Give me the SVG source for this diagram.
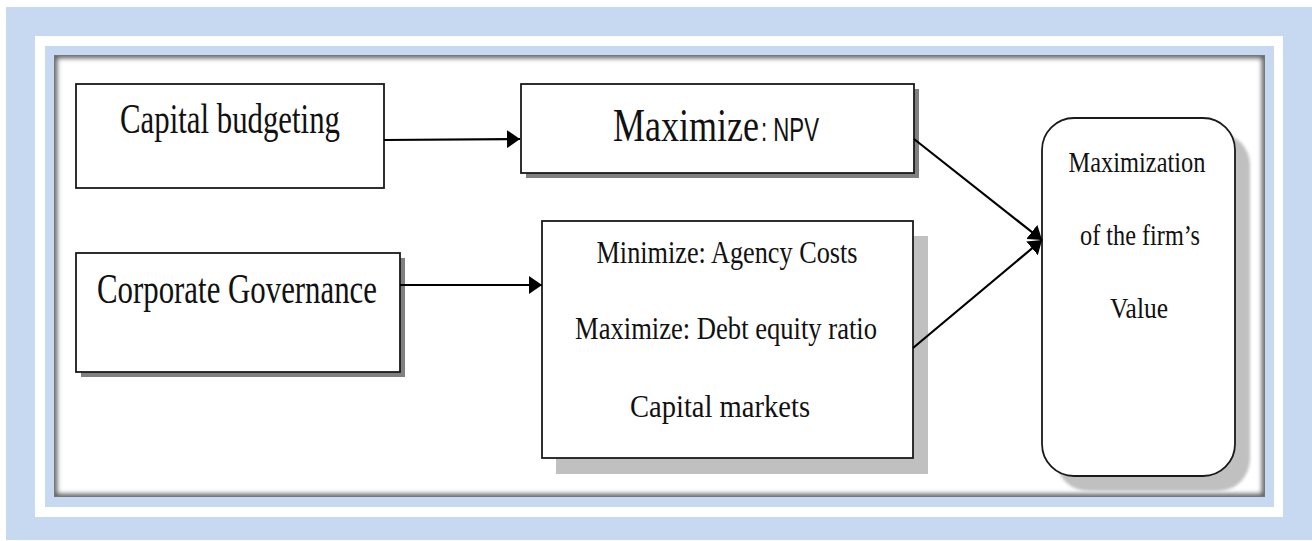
<svg xmlns="http://www.w3.org/2000/svg" width="1312" height="541" viewBox="0 0 1312 541">
  <style>
    .box { fill: #ffffff; stroke: #1a1a1a; stroke-width: 1.8; }
    .shadow-dark { fill: #808080; }
    .shadow-light { fill: #c0c0c0; }
    .serif { font-family: "Liberation Serif", "Times New Roman", serif; fill: #111111; }
    .sans { font-family: "Liberation Sans", Arial, sans-serif; fill: #111111; }
    .link { fill: none; stroke: #000000; stroke-width: 2.2; marker-end: url(#arrow); }
  </style>
  <defs>
    <marker id="arrow" markerUnits="userSpaceOnUse" markerWidth="14" markerHeight="18" refX="13" refY="9" orient="auto">
      <path d="M0,0 L13,9 L0,18 z" fill="#000000"/>
    </marker>
    <clipPath id="panelClip">
      <rect x="54" y="55" width="1211" height="442"/>
    </clipPath>
    <filter id="soft" x="-10%" y="-10%" width="120%" height="120%">
      <feGaussianBlur stdDeviation="2.5"/>
    </filter>
    <filter id="softShadow" x="-10%" y="-10%" width="120%" height="120%">
      <feGaussianBlur stdDeviation="1.5"/>
    </filter>
  </defs>

  <!-- page frame: blue band, white band, blue band, inset panel -->
  <rect x="6" y="7" width="1306" height="533" fill="#c6d9f0"/>
  <rect x="35" y="36" width="1248" height="481" fill="#ffffff"/>
  <rect x="45" y="46" width="1229" height="461" fill="#c6d9f0"/>
  <rect x="54" y="55" width="1211" height="442" fill="#ffffff"/>
  <g clip-path="url(#panelClip)">
    <rect x="54" y="55" width="1211" height="442" fill="none" stroke="#555555" stroke-width="6" filter="url(#soft)"/>
    <rect x="54" y="55" width="1211" height="442" fill="none" stroke="#777777" stroke-width="1.5"/>
  </g>

  <g id="capital-budgeting">
    <rect class="box" x="76" y="84" width="308" height="104"/>
    <text class="serif" x="230" y="133" font-size="42" text-anchor="middle" textLength="220" lengthAdjust="spacingAndGlyphs">Capital budgeting</text>
  </g>

  <g id="maximize-npv">
    <rect class="shadow-dark" x="526" y="89" width="393" height="89"/>
    <rect class="box" x="521" y="84" width="393" height="89"/>
    <text class="serif" x="613" y="141" font-size="46" textLength="146" lengthAdjust="spacingAndGlyphs">Maximize</text>
    <text class="sans" x="761" y="141" font-size="34" textLength="58" lengthAdjust="spacingAndGlyphs">: NPV</text>
  </g>

  <g id="corporate-governance">
    <rect class="shadow-dark" x="81" y="258" width="324" height="119"/>
    <rect class="box" x="76" y="253" width="324" height="119"/>
    <text class="serif" x="237" y="303" font-size="42" text-anchor="middle" textLength="280" lengthAdjust="spacingAndGlyphs">Corporate Governance</text>
  </g>

  <g id="objectives">
    <rect class="shadow-light" x="556" y="236" width="372" height="238"/>
    <rect class="box" x="542" y="221" width="371" height="237"/>
    <text class="serif" x="727" y="263" font-size="32" text-anchor="middle" textLength="261" lengthAdjust="spacingAndGlyphs">Minimize: Agency Costs</text>
    <text class="serif" x="726" y="339" font-size="32" text-anchor="middle" textLength="302" lengthAdjust="spacingAndGlyphs">Maximize: Debt equity ratio</text>
    <text class="serif" x="720" y="417" font-size="32" text-anchor="middle" textLength="180" lengthAdjust="spacingAndGlyphs">Capital markets</text>
  </g>

  <g id="firm-value">
    <rect class="shadow-light" x="1056" y="133" width="194" height="358" rx="32" ry="32" filter="url(#softShadow)"/>
    <rect class="box" x="1042" y="118" width="193" height="358" rx="32" ry="32" stroke-width="1.5"/>
    <text class="serif" x="1137" y="172" font-size="29" text-anchor="middle" textLength="137" lengthAdjust="spacingAndGlyphs">Maximization</text>
    <text class="serif" x="1140" y="245" font-size="29" text-anchor="middle" textLength="120" lengthAdjust="spacingAndGlyphs">of the firm’s</text>
    <text class="serif" x="1139" y="318" font-size="29" text-anchor="middle" textLength="58" lengthAdjust="spacingAndGlyphs">Value</text>
  </g>

  <!-- connectors drawn over the node shadows -->
  <g id="connectors">
    <line class="link" x1="384" y1="140" x2="520" y2="139"/>
    <line class="link" x1="400" y1="285" x2="542" y2="285"/>
    <line class="link" x1="914" y1="139" x2="1042" y2="240"/>
    <line class="link" x1="913" y1="348" x2="1042" y2="240"/>
  </g>
</svg>
